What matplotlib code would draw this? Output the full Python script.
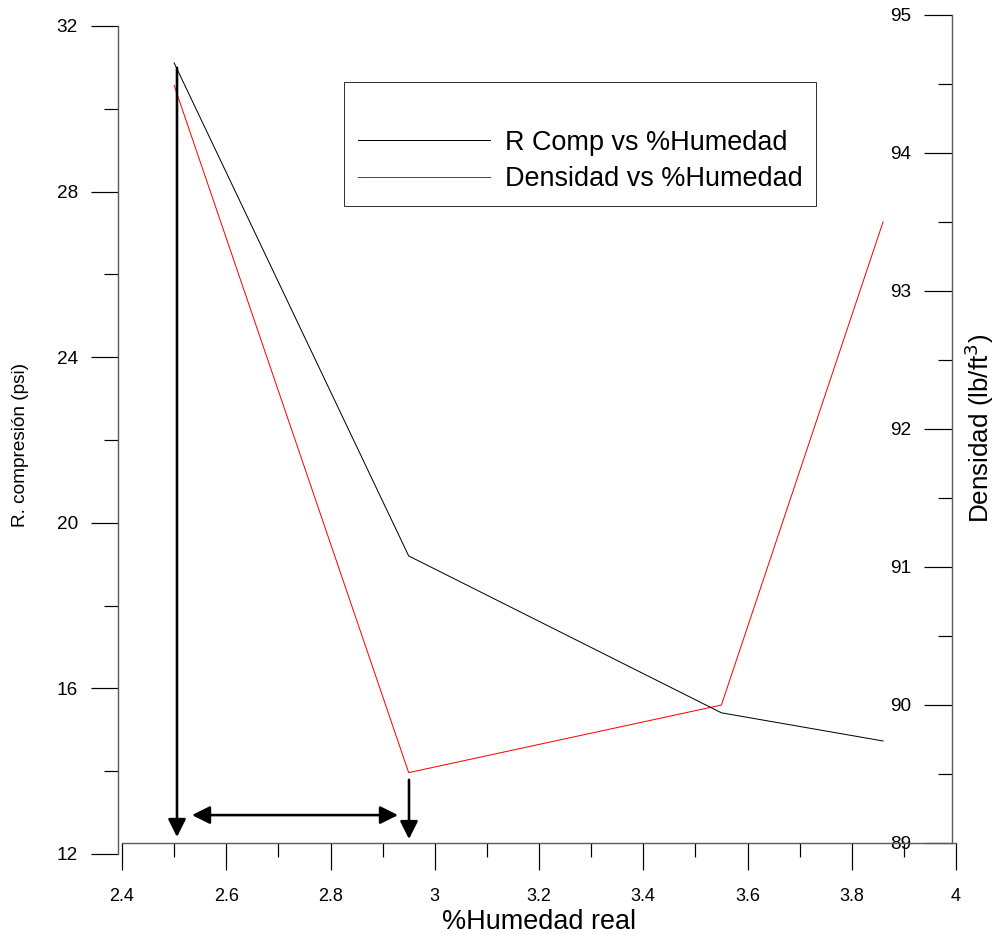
import matplotlib
matplotlib.use("Agg")
import matplotlib.pyplot as plt
from matplotlib.ticker import MultipleLocator, FuncFormatter

plt.rcParams['font.family'] = ['Liberation Sans', 'DejaVu Sans']

humedad = [2.50, 2.95, 3.55, 3.86]
r_comp = [31.11, 19.20, 15.41, 14.73]
densidad = [94.49, 89.51, 90.00, 93.50]

W, H = 995, 934
DPI = 72
fig = plt.figure(figsize=(W / DPI, H / DPI), dpi=DPI)

def px_axes(x0, x1, ytop, ybot):
    return [x0 / W, (H - ybot) / H, (x1 - x0) / W, (ybot - ytop) / H]

ax2 = fig.add_axes(px_axes(122, 956, 15, 843))
ax1 = fig.add_axes(px_axes(122, 956, 26, 854))
ax1.set_zorder(2)
ax1.patch.set_visible(False)

spine_col = '#5a5a5a'

# ---- ax1 : R compresion + x axis ----
ax1.set_xlim(2.4, 4.0)
ax1.set_ylim(12, 32)
ax1.spines['top'].set_visible(False)
ax1.spines['right'].set_visible(False)
ax1.spines['left'].set_position(('axes', -4 / 834))
ax1.spines['bottom'].set_position(('axes', 11 / 828))
for s in ('left', 'bottom'):
    ax1.spines[s].set_color(spine_col)
    ax1.spines[s].set_linewidth(1.4)
ax1.xaxis.set_major_locator(MultipleLocator(0.2))
ax1.xaxis.set_minor_locator(MultipleLocator(0.1))
ax1.yaxis.set_major_locator(MultipleLocator(4))
ax1.yaxis.set_minor_locator(MultipleLocator(2))
ax1.xaxis.set_major_formatter(FuncFormatter(lambda v, p: f"{v:.1f}".rstrip('0').rstrip('.')))
ax1.tick_params(axis='both', which='major', length=27, width=1.2, direction='out', color='black')
ax1.tick_params(axis='both', which='minor', length=14, width=1.2, direction='out', color='black')
ax1.tick_params(axis='x', which='major', pad=18, labelsize=18)
ax1.tick_params(axis='y', which='major', pad=13, labelsize=19)

l1, = ax1.plot(humedad, r_comp, color='black', lw=1.0, label='R Comp vs %Humedad')

# ---- ax2 : Densidad ----
ax2.set_xlim(2.4, 4.0)
ax2.set_ylim(89, 95)
for s in ('top', 'right', 'bottom'):
    ax2.spines[s].set_visible(False)
ax2.spines['left'].set_position(('axes', 830 / 834))
ax2.spines['left'].set_color(spine_col)
ax2.spines['left'].set_linewidth(1.4)
ax2.set_xticks([])
ax2.yaxis.set_major_locator(MultipleLocator(1))
ax2.yaxis.set_minor_locator(MultipleLocator(0.5))
ax2.tick_params(axis='y', which='major', length=28, width=1.2, labelsize=19, direction='out', pad=13, color='black')
ax2.tick_params(axis='y', which='minor', length=14, width=1.2, direction='out', color='black')
l2, = ax2.plot(humedad, densidad, color='#ff0000', lw=1.0, label='Densidad vs %Humedad')

# ---- axis titles ----
fig.text(539 / W, 1 - 929 / H, '%Humedad real', ha='center', va='baseline', fontsize=27)
fig.text(21 / W, 1 - 445 / H, 'R. compresión (psi)', ha='center', va='center', rotation=90, fontsize=19)
fig.text(979 / W, 1 - 428 / H, 'Densidad (lb/ft$^3$)', ha='center', va='center', rotation=90, fontsize=26)

# ---- arrows ----
head = dict(lw=2.6, color='black', shrinkA=0, shrinkB=0, mutation_scale=25)
ax1.annotate('', xy=(2.5055, 12.41), xytext=(2.5055, 30.99),
             arrowprops=dict(arrowstyle='-|>,head_length=0.6,head_width=0.3', **head), annotation_clip=False)
ax1.annotate('', xy=(2.9506, 12.36), xytext=(2.9506, 13.79),
             arrowprops=dict(arrowstyle='-|>,head_length=0.6,head_width=0.3', **head), annotation_clip=False)
ax1.annotate('', xy=(2.9295, 12.94), xytext=(2.5343, 12.94),
             arrowprops=dict(arrowstyle='<|-|>,head_length=0.6,head_width=0.3', **head), annotation_clip=False)

# ---- legend ----
leg = ax1.legend(handles=[l1, l2], title=' ', title_fontsize=26, fontsize=27,
                 loc='upper left', bbox_to_anchor=(344 / W, (H - 83) / H, 472 / W, 0.001),
                 bbox_transform=fig.transFigure, mode='expand', frameon=True, fancybox=False,
                 edgecolor='black', handlelength=4.9, handletextpad=0.55, labelspacing=0.38,
                 borderpad=0.5, borderaxespad=0)
leg.get_frame().set_linewidth(1.0)

fig.savefig('out.png', dpi=DPI)
